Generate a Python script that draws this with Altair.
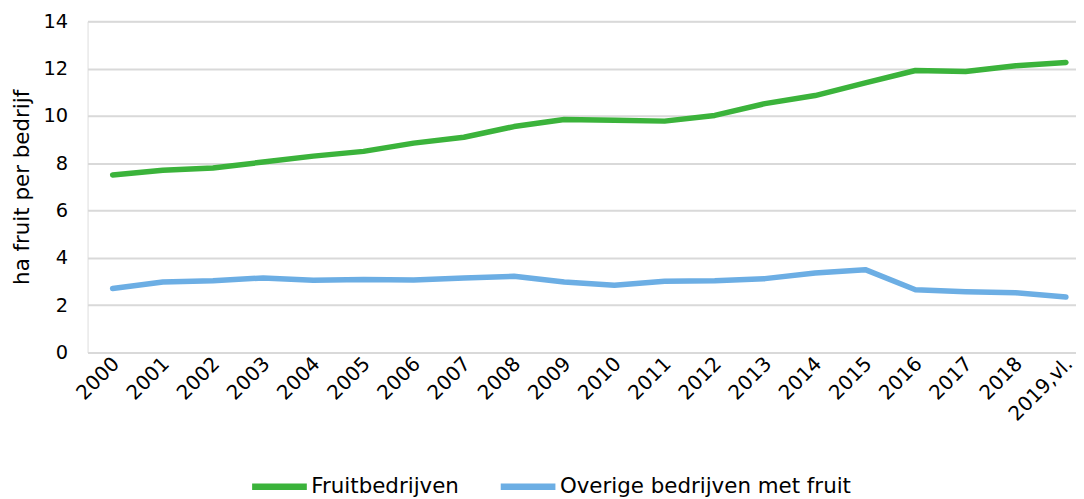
import altair as alt
import pandas as pd

years = ["2000", "2001", "2002", "2003", "2004", "2005", "2006", "2007", "2008", "2009",
         "2010", "2011", "2012", "2013", "2014", "2015", "2016", "2017", "2018", "2019,vl."]
fruitbedrijven = [7.5, 7.7, 7.8, 8.05, 8.3, 8.5, 8.85, 9.1, 9.55, 9.85,
                  9.82, 9.78, 10.02, 10.52, 10.86, 11.4, 11.92, 11.88, 12.12, 12.26]
overige = [2.7, 2.98, 3.03, 3.15, 3.05, 3.08, 3.06, 3.15, 3.22, 2.98,
           2.84, 3.01, 3.03, 3.12, 3.36, 3.5, 2.65, 2.57, 2.52, 2.34]
series_names = ["Fruitbedrijven", "Overige bedrijven met fruit"]
series_colors = ["#3bb33b", "#6caee4"]

rows = []
for i, y in enumerate(years):
    rows.append({"idx": i, "jaar": y, "serie": series_names[0], "waarde": fruitbedrijven[i]})
    rows.append({"idx": i, "jaar": y, "serie": series_names[1], "waarde": overige[i]})
df = pd.DataFrame(rows)

label_expr = "[" + ",".join(f"'{y}'" for y in years) + "][datum.value]"

FONT = "DejaVu Sans"

chart = alt.Chart(df).mark_line(strokeWidth=5.5, strokeCap="round", strokeJoin="round").encode(
    x=alt.X("idx:Q",
            scale=alt.Scale(domain=[-0.5, 19.2], nice=False, zero=False),
            axis=alt.Axis(values=list(range(len(years))), labelExpr=label_expr,
                          labelAngle=-45, labelAlign="right", labelBaseline="middle",
                          labelFontSize=20, labelFont=FONT, labelColor="#000000",
                          labelPadding=8, labelOffset=3, ticks=False, grid=False, domain=False,
                          title=None, labelOverlap=False, labelFlush=False)),
    y=alt.Y("waarde:Q",
            scale=alt.Scale(domain=[0, 14], nice=False),
            axis=alt.Axis(values=[0, 2, 4, 6, 8, 10, 12, 14], labelFontSize=19.5, labelFont=FONT,
                          labelColor="#000000", labelPadding=20, ticks=False, domain=False,
                          gridColor="#d9d9d9", gridWidth=2,
                          title="ha fruit per bedrijf", titleFont=FONT, titleFontSize=21.5,
                          titleFontWeight="normal", titleColor="#000000", titlePadding=10)),
    color=alt.Color("serie:N",
                    scale=alt.Scale(domain=series_names, range=series_colors),
                    legend=alt.Legend(orient="none", legendX=162, legendY=437,
                                      direction="horizontal", title=None,
                                      symbolType="stroke", symbolStrokeWidth=6.5,
                                      symbolSize=3025, labelFontSize=21.5, labelFont=FONT,
                                      labelColor="#000000", columnPadding=28,
                                      labelOffset=1, labelLimit=0)),
    order="idx:Q",
).properties(
    width=994, height=333,
    autosize=alt.AutoSizeParams(type="none"),
    padding={"left": 80, "top": 12, "right": 0, "bottom": 145},
).configure_view(
    stroke="#000000", strokeWidth=2
).configure(background="white")

chart.save("out.html", embed_options={"renderer": "svg", "actions": False})
